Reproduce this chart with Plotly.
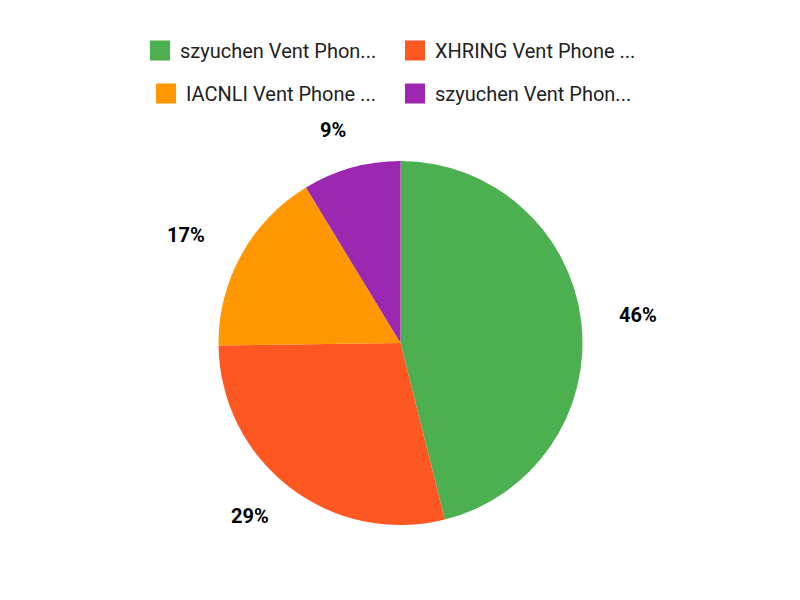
import math
import plotly.graph_objects as go

labels = ["szyuchen Vent Phon...", "XHRING Vent Phone ...", "IACNLI Vent Phone ...", "szyuchen Vent Phon...\u200b"]
values = [53, 33, 19, 10]
colors = ["#4CAF50", "#FF5722", "#FF9800", "#9C27B0"]

W, H = 800, 600
ML, MR = 100, 100
PW = W - ML - MR
cx, cy, R = 400.5, 343, 182
# outside-label ellipse (pixels)
lx, ly, lrx, lry = 398, 342, 242, 220

fig = go.Figure()
fig.add_trace(go.Pie(
    labels=labels, values=values, sort=False, direction="clockwise", rotation=0,
    marker=dict(colors=colors, line=dict(width=0)),
    textinfo="none", hoverinfo="label+percent", showlegend=False,
    domain=dict(x=[(cx - R - ML) / PW, (cx + R - ML) / PW],
                y=[1 - (cy + R) / H, 1 - (cy - R) / H]),
))

# legend entries (two rows, as two legends)
for i, (lab, col) in enumerate(zip(labels, colors)):
    fig.add_trace(go.Scatter(
        x=[None], y=[None], mode="markers", name=lab,
        marker=dict(symbol="square", size=16, color=col, line=dict(color=col, width=4)),
        legend="legend" if i < 2 else "legend2", hoverinfo="skip",
    ))

total = sum(values)
cum = 0
for v in values:
    mid = (cum + v / 2) / total * 2 * math.pi
    cum += v
    s, c = math.sin(mid), math.cos(mid)
    px, py = lx + lrx * s, ly - lry * c
    fig.add_annotation(x=(px - ML) / PW, y=1 - py / H, xref="paper", yref="paper",
                       xanchor="center", yanchor="middle",
                       text="<b>%d%%</b>" % round(v / total * 100), showarrow=False,
                       font=dict(family="Roboto", size=20, color="#000000"))

leg_common = dict(orientation="h", xanchor="left", yanchor="top", entrywidthmode="pixels",
                  itemsizing="trace", bgcolor="rgba(0,0,0,0)",
                  font=dict(family="Roboto", size=20, color="#222222"))
fig.update_layout(
    width=W, height=H, margin=dict(l=ML, r=MR, t=0, b=0, pad=0),
    paper_bgcolor="white", plot_bgcolor="white",
    font=dict(family="Roboto", size=20, color="#222222"),
    xaxis=dict(visible=False), yaxis=dict(visible=False),
    legend=dict(x=(140 - ML) / PW, y=1 - 31 / H, entrywidth=210, **leg_common),
    legend2=dict(x=(146 - ML) / PW, y=1 - 74 / H, entrywidth=204, **leg_common),
)
fig.write_html("out.html", config={"displayModeBar": False},
               post_script="document.body.style.margin='0';")
